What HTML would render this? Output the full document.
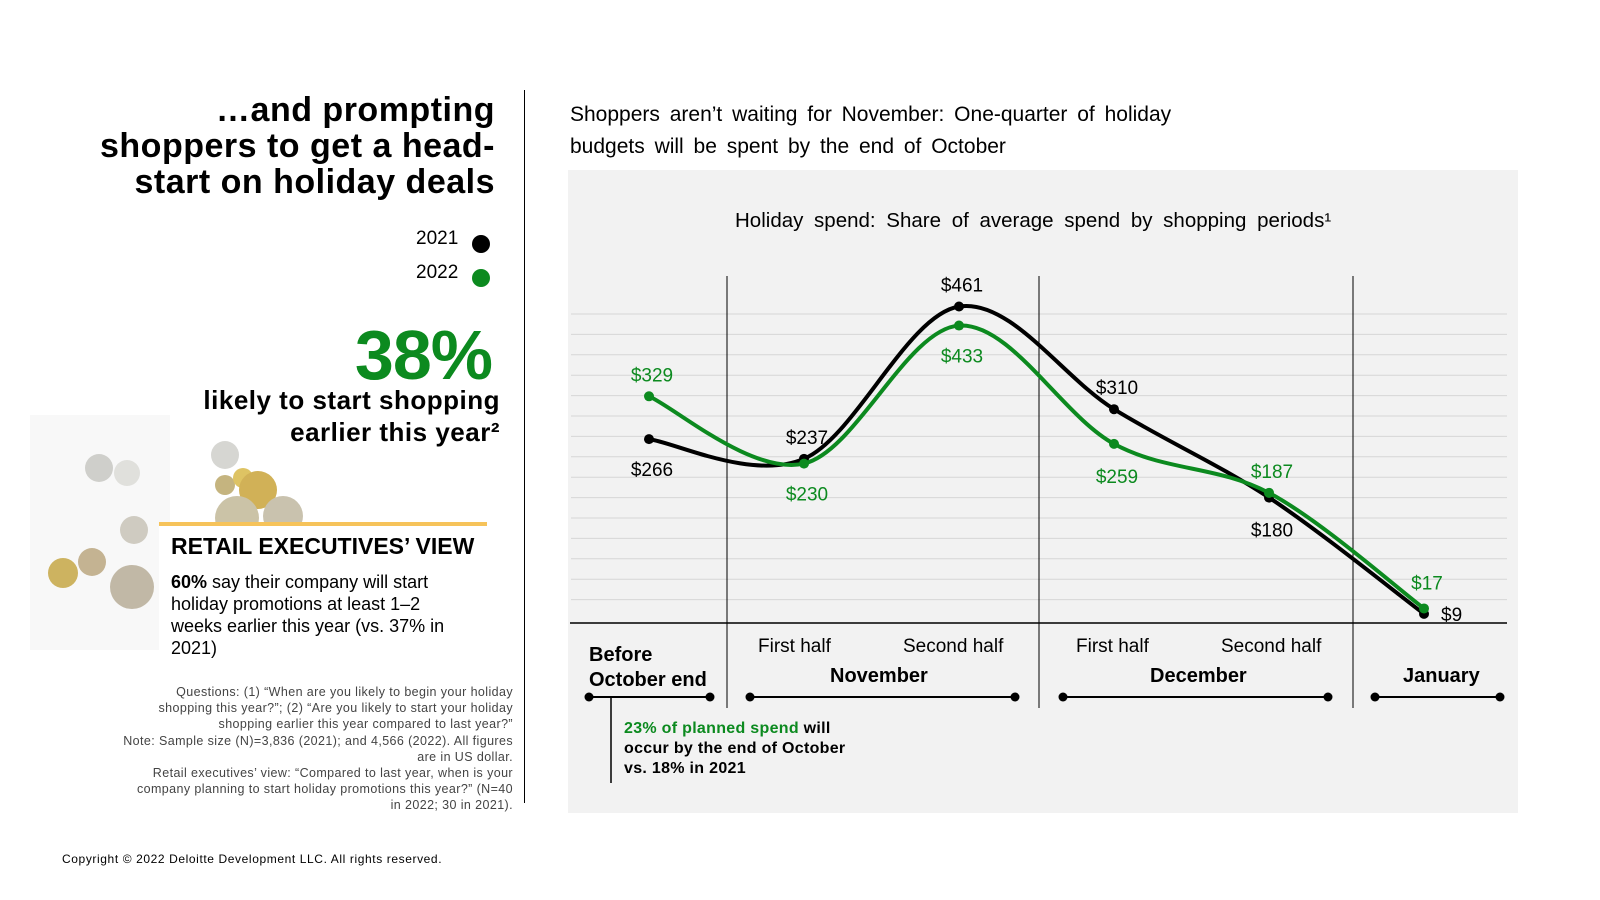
<!DOCTYPE html>
<html><head><meta charset="utf-8">
<style>
body{margin:0;width:1600px;height:900px;background:#fff;font-family:"Liberation Sans",sans-serif;overflow:hidden;position:relative}
.a{position:absolute}
.t{position:absolute;white-space:nowrap}
</style></head><body>
<div class="t" style="right:1105px;top:92px;text-align:right;font-weight:bold;font-size:34px;line-height:36px;color:#000;letter-spacing:0.5px">…and prompting<br>shoppers to get a head-<br>start on holiday deals</div>
<div class="t" style="left:416px;top:228px;font-size:19px">2021</div>
<div class="a" style="left:472px;top:235px;width:18px;height:18px;border-radius:50%;background:#000"></div>
<div class="t" style="left:416px;top:262px;font-size:19px">2022</div>
<div class="a" style="left:472px;top:269px;width:18px;height:18px;border-radius:50%;background:#0c8a1f"></div>
<div class="t" style="right:1108px;top:322px;font-size:70px;font-weight:bold;color:#0c8a1f;line-height:66px;letter-spacing:-1px">38%</div>
<div class="t" style="right:1100px;top:384px;font-size:26px;font-weight:bold;text-align:right;line-height:32px;letter-spacing:0.5px">likely to start shopping<br>earlier this year²</div>
<div class="a" style="left:30px;top:415px;width:140px;height:235px;background:#f8f8f8"></div>
<svg class="a" style="left:0;top:0" width="520" height="700">
<g opacity="0.85">
<circle cx="99" cy="468" r="14" fill="#c8c8c4"/><circle cx="127" cy="473" r="13" fill="#dcdcd8"/>
<circle cx="225" cy="455" r="14" fill="#cfcfcb"/><circle cx="225" cy="485" r="10" fill="#bba869"/>
<circle cx="243" cy="478" r="10" fill="#d9b948"/><circle cx="258" cy="490" r="19" fill="#c9a43a"/>
<circle cx="237" cy="518" r="22" fill="#c3b998"/><circle cx="283" cy="516" r="20" fill="#c0b8a0"/>
<circle cx="134" cy="530" r="14" fill="#c8c4b8"/><circle cx="92" cy="562" r="14" fill="#bba781"/>
<circle cx="63" cy="573" r="15" fill="#c6a746"/><circle cx="132" cy="587" r="22" fill="#b8ae98"/>
</g></svg>
<div class="a" style="left:159px;top:524px;width:328px;height:140px;background:#fff"></div>
<div class="a" style="left:159px;top:522px;width:328px;height:4px;background:#f6c35a"></div>
<div class="t" style="left:171px;top:533px;font-size:23px;font-weight:bold">RETAIL EXECUTIVES’ VIEW</div>
<div class="a" style="left:171px;top:571px;width:290px;font-size:18px;line-height:22px"><b>60%</b> say their company will start holiday promotions at least 1–2 weeks earlier this year (vs. 37% in 2021)</div>
<div class="t" style="right:1087px;top:684px;text-align:right;font-size:12.5px;line-height:16.2px;color:#444;letter-spacing:0.4px">Questions: (1) “When are you likely to begin your holiday<br>shopping this year?”; (2) “Are you likely to start your holiday<br>shopping earlier this year compared to last year?”<br>Note: Sample size (N)=3,836 (2021); and 4,566 (2022). All figures<br>are in US dollar.<br>Retail executives’ view: “Compared to last year, when is your<br>company planning to start holiday promotions this year?” (N=40<br>in 2022; 30 in 2021).</div>
<div class="t" style="left:62px;top:852px;font-size:12px;letter-spacing:0.6px">Copyright © 2022 Deloitte Development LLC. All rights reserved.</div>
<div class="a" style="left:524px;top:90px;width:1px;height:713px;background:#000"></div>
<div class="t" style="left:570px;top:99px;font-size:21px;line-height:32px;word-spacing:4px">Shoppers aren’t waiting for November: One-quarter of holiday<br>budgets will be spent by the end of October</div>
<div class="a" style="left:568px;top:170px;width:950px;height:643px;background:#f2f2f2"></div>
<div class="t" style="left:735px;top:209px;font-size:20.5px;word-spacing:5px">Holiday spend: Share of average spend by shopping periods¹</div>
<svg id="ch" class="a" style="left:0;top:0" width="1600" height="900"></svg>
<script>
const categories=["Before October end","November first half","November second half","December first half","December second half","January"];
const values2021=[266,237,461,310,180,9];
const values2022=[329,230,433,259,187,17];
const labels2021=["$266","$237","$461","$310","$180","$9"];
const labels2022=["$329","$230","$433","$259","$187","$17"];
const gridTicks=[30,60,90,120,150,180,210,240,270,300,330,360,390,420,450];
const NS="http://www.w3.org/2000/svg";
const svg=document.getElementById('ch');
const xs=i=>649+i*155;
const ys=v=>620-v*0.68;
function mk(t,a){const e=document.createElementNS(NS,t);for(const k in a)e.setAttribute(k,a[k]);svg.appendChild(e);return e;}
gridTicks.forEach(v=>{const l=mk('line',{x1:571,x2:1507,y1:ys(v),y2:ys(v),stroke:'#d6d6d6','stroke-width':1});

});
[727,1039,1353].forEach(x=>{const l=mk('line',{x1:x,x2:x,y1:276,y2:708,stroke:'#000','stroke-width':1});

});
const base=mk('line',{x1:570,x2:1507,y1:623,y2:623,stroke:'#000','stroke-width':1.5});


function path(vals){const p=vals.map((v,i)=>[xs(i),ys(v)]);let d=`M${p[0][0]},${p[0][1]}`;
for(let i=0;i<p.length-1;i++){const p0=p[i-1]||p[i],p1=p[i],p2=p[i+1],p3=p[i+2]||p2;
d+=` C${p1[0]+(p2[0]-p0[0])/6},${p1[1]+(p2[1]-p0[1])/6} ${p2[0]-(p3[0]-p1[0])/6},${p2[1]-(p3[1]-p1[1])/6} ${p2[0]},${p2[1]}`;}return d;}
function series(vals,col,name){const l=mk('path',{d:path(vals),fill:'none',stroke:col,'stroke-width':4});


vals.forEach((v,i)=>{const c=mk('circle',{cx:xs(i),cy:ys(v),r:5,fill:col});

});}
series(values2021,'#000','series-2021');
series(values2022,'#0c8a1f','series-2022');
const off21=[30,-22,-22,-22,32,0],off22=[-22,30,30,32,-22,-26];
function lab(vals,labels,off,col,name){vals.forEach((v,i)=>{let x=xs(i)+3,a='middle';if(i==5&&name=='label-2021'){x+=14;a='start';}
const t=mk('text',{x:x,y:ys(v)+off[i]+7,'text-anchor':a,'font-size':19,fill:col,'font-family':'Liberation Sans,sans-serif'});t.textContent=labels[i];

});}
lab(values2021,labels2021,off21,'#000','label-2021');
lab(values2022,labels2022,off22,'#0c8a1f','label-2022');
[[589,710],[750,1015],[1063,1328],[1375,1500]].forEach(r=>{const l=mk('line',{x1:r[0],x2:r[1],y1:697,y2:697,stroke:'#000','stroke-width':2});


r.forEach(x=>{const c=mk('circle',{cx:x,cy:697,r:4.5,fill:'#000'});

});});
const cl=mk('line',{x1:611,x2:611,y1:697,y2:783,stroke:'#000','stroke-width':1.5});


</script>
<div class="t" style="left:589px;top:643px;font-size:20px;font-weight:bold;line-height:25px">Before<br>October end</div>
<div class="t" style="left:758px;top:636px;font-size:19px">First half</div>
<div class="t" style="left:903px;top:636px;font-size:19px">Second half</div>
<div class="t" style="left:830px;top:665px;font-size:20px;font-weight:bold">November</div>
<div class="t" style="left:1076px;top:636px;font-size:19px">First half</div>
<div class="t" style="left:1221px;top:636px;font-size:19px">Second half</div>
<div class="t" style="left:1150px;top:665px;font-size:20px;font-weight:bold">December</div>
<div class="t" style="left:1403px;top:665px;font-size:20px;font-weight:bold">January</div>
<div class="t" style="left:624px;top:719px;font-size:16px;font-weight:bold;line-height:20px;letter-spacing:0.3px"><span style="color:#0c8a1f">23% of planned spend</span> will<br>occur by the end of October<br>vs. 18% in 2021</div>
</body></html>
